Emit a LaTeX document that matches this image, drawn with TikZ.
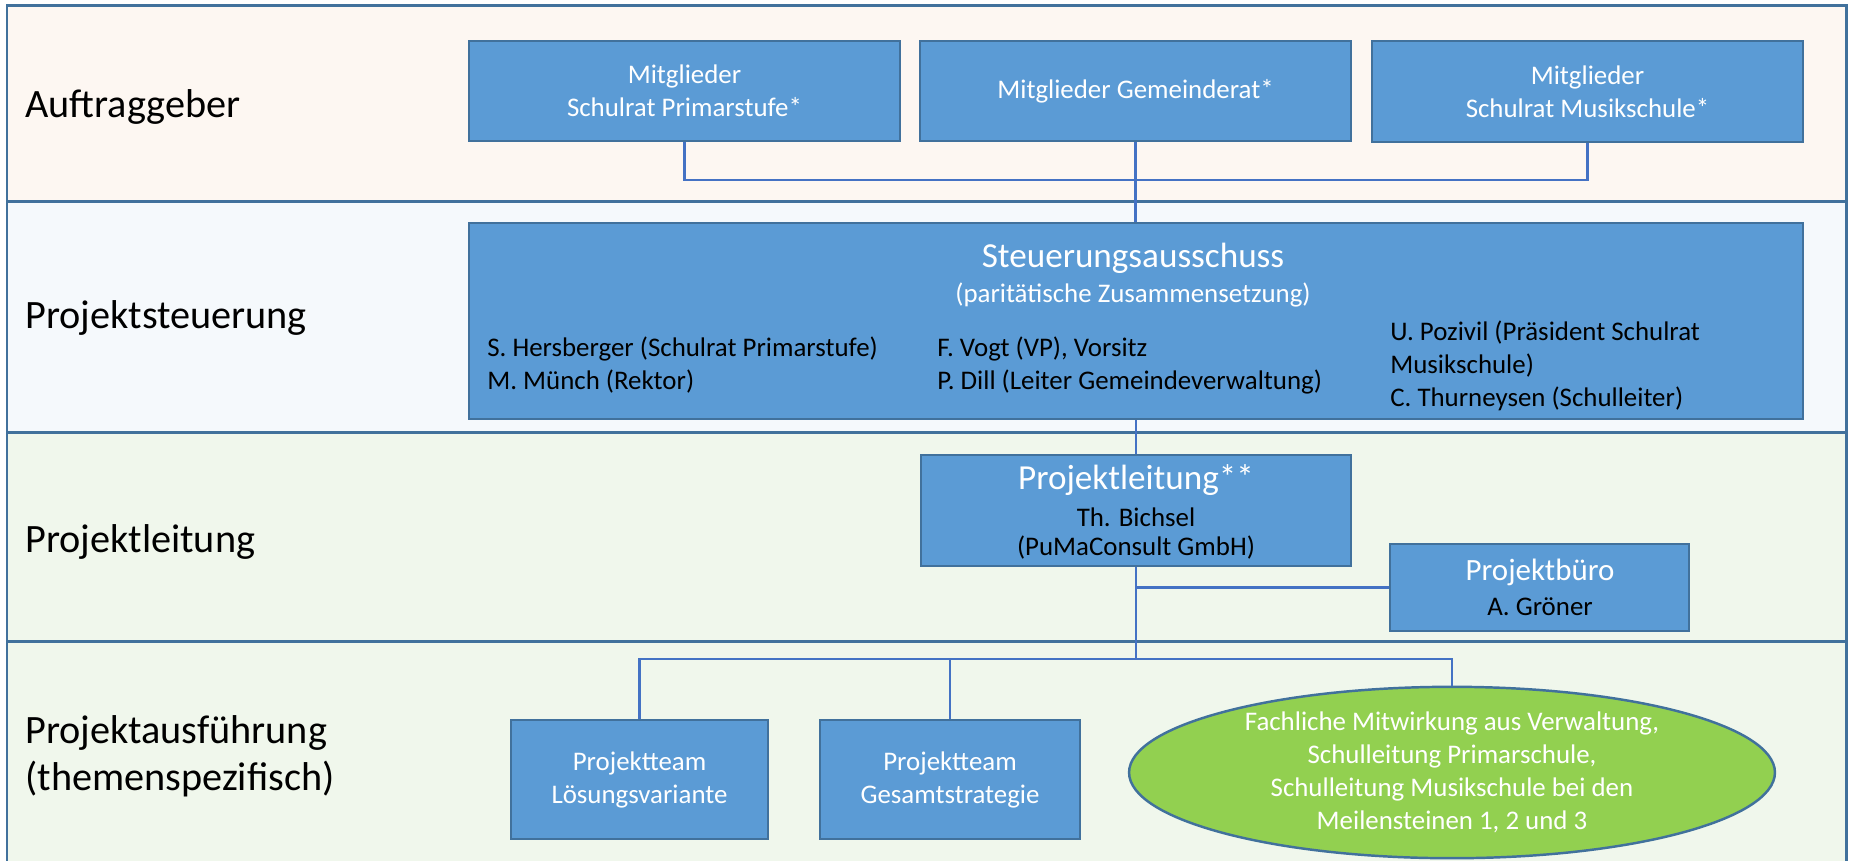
\documentclass[tikz,border=0pt]{standalone}
\usepackage{fontspec}
\setmainfont{Carlito}
\usepackage{tikz}
\usetikzlibrary{shapes.geometric}

\definecolor{rahmen}{HTML}{41719C}
\definecolor{boxblau}{HTML}{5B9BD5}
\definecolor{linie}{HTML}{4472C4}
\definecolor{gruen}{HTML}{92D050}
\definecolor{bandA}{HTML}{FDF7F2}
\definecolor{bandB}{HTML}{F5F9FC}
\definecolor{bandC}{HTML}{F0F7EC}

\newcommand{\klein}{\fontsize{15.3}{18.8}\selectfont}
\newcommand{\mittel}{\fontsize{17.6}{21}\selectfont}
\newcommand{\gross}{\fontsize{20}{24}\selectfont}
\newcommand{\bandfont}{\fontsize{22.9}{27}\selectfont}

\tikzset{
  band/.style={draw=rahmen, line width=1.7pt},
  bandtxt/.style={anchor=base west, inner sep=0pt, font=\bandfont},
  box/.style={draw=rahmen, line width=1.4pt, fill=boxblau, text=white,
    align=center, inner sep=0pt, font=\klein},
  ellbox/.style={ellipse, draw=rahmen, line width=1.4pt, fill=gruen,
    text=white, align=center, inner sep=0pt, font=\klein},
  conn/.style={draw=linie, line width=1.4pt},
  txt/.style={inner sep=0pt, font=\klein},
}

\begin{document}
\begin{tikzpicture}[x=0.02cm, y=-0.02cm]
  \clip (0,0) rectangle (1849,860);

  % Baender
  \filldraw[band, fill=bandA] (7,5) rectangle (1846,201);
  \filldraw[band, fill=bandB] (7,201) rectangle (1846,432);
  \filldraw[band, fill=bandC] (7,432) rectangle (1846,641);
  \filldraw[band, fill=bandC] (7,641) rectangle (1846,900);

  \node[bandtxt] (lAuf) at (25,117) {Auftraggeber};
  \node[bandtxt] (lSteu) at (25,328) {Projektsteuerung};
  \node[bandtxt] (lLeit) at (25,552) {Projektleitung};
  \node[bandtxt] (lAus) at (25,743) {Projektausführung};
  \node[bandtxt] (lThema) at (25,790) {(themenspezifisch)};

  % Auftraggeber
  \node[box, minimum width=8.62cm, minimum height=2cm] (mgPrim) at (684.5,91) {Mitglieder\\Schulrat Primarstufe*};
  \node[box, minimum width=8.62cm, minimum height=2cm] (mgGem) at (1135.5,91) {Mitglieder Gemeinderat*};
  \node[box, minimum width=8.62cm, minimum height=2.02cm] (mgMus) at (1587.5,91.5) {Mitglieder\\Schulrat Musikschule*};

  % Steuerungsausschuss
  \node[box, minimum width=26.68cm, minimum height=3.92cm] (steu) at (1136,321) {};
  \node[txt, text=white, font=\gross] (steuTitel) at (1133,258) {Steuerungsausschuss};
  \node[txt, text=white] (steuSub) at (1133,295) {(paritätische Zusammensetzung)};
  \node[txt, anchor=west, align=left] (steuLinks) at (487,365.5) {S. Hersberger (Schulrat Primarstufe)\\M. Münch (Rektor)};
  \node[txt, anchor=west, align=left] (steuMitte) at (937,365.5) {F. Vogt (VP), Vorsitz\\P. Dill (Leiter Gemeindeverwaltung)};
  \node[txt, anchor=west, align=left] (steuRechts) at (1390,366) {U. Pozivil (Präsident Schulrat\\Musikschule)\\C. Thurneysen (Schulleiter)};

  % Projektleitung
  \node[box, minimum width=8.6cm, minimum height=2.22cm] (pl) at (1136,510.5) {};
  \node[txt, text=white, font=\gross] (plTitel) at (1136,480) {Projektleitung**};
  \node[txt] (plName) at (1136,517) {Th. Bichsel};
  \node[txt] (plFirma) at (1136,548) {(PuMaConsult GmbH)};

  \node[box, minimum width=5.98cm, minimum height=1.74cm] (pb) at (1539.5,587.5) {};
  \node[txt, text=white, font=\mittel] (pbTitel) at (1540,572) {Projektbüro};
  \node[txt] (pbName) at (1540,607) {A. Gröner};

  % Projektausfuehrung
  \node[box, minimum width=5.14cm, minimum height=2.38cm] (team1) at (639.5,779.5) {Projektteam\\Lösungsvariante};
  \node[box, minimum width=5.2cm, minimum height=2.38cm] (team2) at (950,779.5) {Projektteam\\Gesamtstrategie};
  \node[ellbox, minimum width=12.92cm, minimum height=3.26cm] (mitw) at (1452,772.5)
    {Fachliche Mitwirkung aus Verwaltung,\\Schulleitung Primarschule,\\Schulleitung Musikschule bei den\\Meilensteinen 1, 2 und 3};

  % Verbindungen
  \coordinate (jOben) at (1135.5,180);
  \coordinate (jUnten) at (1136,659);
  \draw[conn] (mgPrim.south) |- (jOben) -| (mgMus.south);
  \draw[conn] (mgGem.south) -- (mgGem.south |- steu.north);
  \draw[conn] (steu.south) -- (pl.north);
  \draw[conn] (pl.south) -- (jUnten);
  \draw[conn] (pl.south |- pb.west) -- (pb.west);
  \draw[conn] (team1.north) |- (jUnten) -| (mitw.north);
  \draw[conn] (team2.north) -- (team2.north |- jUnten);
\end{tikzpicture}
\end{document}
